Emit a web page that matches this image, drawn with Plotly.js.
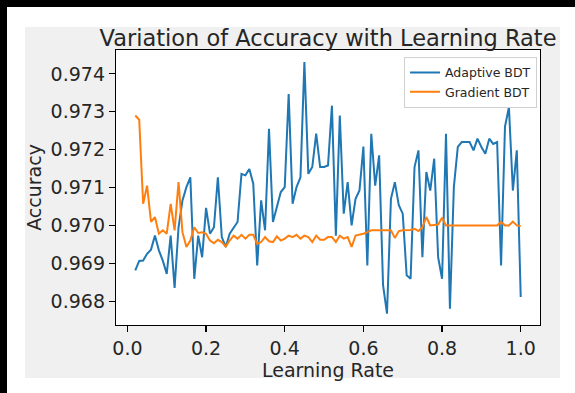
<!DOCTYPE html>
<html>
<head>
<meta charset="utf-8">
<script src="https://cdn.plot.ly/plotly-3.0.1.min.js"></script>
<style>
  html, body { margin: 0; padding: 0; background: #ffffff; }
  #wrap { position: relative; width: 575px; height: 393px; overflow: hidden; background: #ffffff; }
  #topbar { position: absolute; left: 0; top: 0; width: 575px; height: 7px; background: #000; z-index: 3; }
  #leftbar { position: absolute; left: 0; top: 0; width: 7px; height: 393px; background: #000; z-index: 3; }
  #figbg { position: absolute; left: 25px; top: 27px; width: 535px; height: 351px; background: #f0f0f0; z-index: 0; }
  #chart { position: absolute; left: 0; top: 0; width: 575px; height: 393px; z-index: 1; }
</style>
</head>
<body>
<div id="wrap">
  <div id="figbg"></div>
  <div id="chart"></div>
  <div id="topbar"></div>
  <div id="leftbar"></div>
</div>
<script>
const learningRate = [0.02,0.03,0.04,0.05,0.06,0.07,0.08,0.09,0.10,0.11,0.12,0.13,0.14,0.15,0.16,0.17,0.18,0.19,0.20,
  0.21,0.22,0.23,0.24,0.25,0.26,0.27,0.28,0.29,0.30,0.31,0.32,0.33,0.34,0.35,0.36,0.37,0.38,0.39,0.40,
  0.41,0.42,0.43,0.44,0.45,0.46,0.47,0.48,0.49,0.50,0.51,0.52,0.53,0.54,0.55,0.56,0.57,0.58,0.59,0.60,
  0.61,0.62,0.63,0.64,0.65,0.66,0.67,0.68,0.69,0.70,0.71,0.72,0.73,0.74,0.75,0.76,0.77,0.78,0.79,0.80,
  0.81,0.82,0.83,0.84,0.85,0.86,0.87,0.88,0.89,0.90,0.91,0.92,0.93,0.94,0.95,0.96,0.97,0.98,0.99,1.00];

const adaptiveBDT = [0.96881,0.96906,0.96907,0.96925,0.96936,0.96973,0.96934,0.96907,0.96872,0.96973,
  0.96835,0.96995,0.97066,0.97101,0.97127,0.96859,0.96973,0.96916,0.97046,0.96978,
  0.96995,0.97127,0.96969,0.96943,0.96978,0.96995,0.97009,0.97136,0.97132,0.97149,
  0.97110,0.96894,0.97066,0.96987,0.97255,0.97009,0.97048,0.97088,0.97101,0.97347,
  0.97057,0.97101,0.97127,0.97431,0.97136,0.97154,0.97242,0.97154,0.97154,0.97158,
  0.97316,0.96973,0.97290,0.97031,0.97114,0.97000,0.97070,0.97092,0.97208,0.96894,
  0.97242,0.97105,0.97185,0.96842,0.96767,0.97070,0.97114,0.97053,0.97031,0.96868,
  0.96859,0.97154,0.97198,0.96916,0.97141,0.97092,0.97176,0.96916,0.96859,0.97242,
  0.96780,0.97101,0.97207,0.97220,0.97220,0.97220,0.97198,0.97229,0.97207,0.97189,
  0.97229,0.97215,0.97220,0.96894,0.97261,0.97312,0.97092,0.97198,0.96811];

const gradientBDT = [0.97290,0.97279,0.97057,0.97105,0.97009,0.97022,0.96978,0.96987,0.96978,0.97057,
  0.96987,0.97114,0.96982,0.96943,0.96960,0.96995,0.96980,0.96982,0.96978,0.96960,
  0.96953,0.96962,0.96956,0.96944,0.96960,0.96973,0.96965,0.96975,0.96965,0.96975,
  0.96975,0.96951,0.96956,0.96969,0.96958,0.96956,0.96971,0.96960,0.96965,0.96973,
  0.96969,0.96975,0.96965,0.96973,0.96969,0.96956,0.96973,0.96962,0.96962,0.96969,
  0.96969,0.96956,0.96973,0.96965,0.96969,0.96943,0.96973,0.96975,0.96978,0.96982,
  0.96987,0.96987,0.96987,0.96987,0.96987,0.96987,0.96967,0.96985,0.96987,0.96987,
  0.96988,0.96991,0.96985,0.96995,0.97022,0.97000,0.97002,0.97002,0.97020,0.97000,
  0.97000,0.97000,0.97000,0.97000,0.97000,0.97000,0.97000,0.97000,0.97000,0.97000,
  0.97000,0.97000,0.97000,0.97009,0.97000,0.97000,0.97010,0.97000,0.96998];

const seriesNames = ['Adaptive BDT', 'Gradient BDT'];
const chartTitle = 'Variation of Accuracy with Learning Rate';
const xLabel = 'Learning Rate';
const yLabel = 'Accuracy';
const xTicks = [0.0, 0.2, 0.4, 0.6, 0.8, 1.0];
const yTicks = [0.968, 0.969, 0.970, 0.971, 0.972, 0.973, 0.974];

const FONT = 'DejaVu Sans, sans-serif';
const traces = [
  { x: learningRate, y: adaptiveBDT, name: seriesNames[0], type: 'scatter', mode: 'lines',
    line: { color: '#1f77b4', width: 2 } },
  { x: learningRate, y: gradientBDT, name: seriesNames[1], type: 'scatter', mode: 'lines',
    line: { color: '#ff7f0e', width: 2 } }
];

const layout = {
  width: 575, height: 393,
  margin: { l: 116, r: 35, t: 50, b: 68, pad: 0 },
  paper_bgcolor: 'rgba(0,0,0,0)',
  plot_bgcolor: '#ffffff',
  font: { family: FONT, color: '#262626' },
  title: { text: chartTitle, font: { family: FONT, size: 22.5, color: '#262626' },
    x: 0.5, xref: 'paper', xanchor: 'center', y: 1, yref: 'paper', yanchor: 'bottom', pad: { b: 4 } },
  xaxis: {
    range: [-0.029, 1.049], tickvals: xTicks, ticktext: xTicks.map(v => v.toFixed(1)),
    showgrid: false, zeroline: false, showline: true, linecolor: '#000', linewidth: 1.2, mirror: true,
    ticks: 'outside', ticklen: 6, tickwidth: 1.2, tickcolor: '#000',
    tickfont: { family: FONT, size: 19, color: '#262626' },
    title: { text: xLabel, font: { family: FONT, size: 19, color: '#262626' }, standoff: 4 },
    automargin: false
  },
  yaxis: {
    range: [0.96737, 0.97463], tickvals: yTicks, ticktext: yTicks.map(v => v.toFixed(3)),
    showgrid: false, zeroline: false, showline: true, linecolor: '#000', linewidth: 1.2, mirror: true,
    ticks: 'outside', ticklen: 6, tickwidth: 1.2, tickcolor: '#000',
    tickfont: { family: FONT, size: 19, color: '#262626' },
    title: { text: yLabel, font: { family: FONT, size: 19, color: '#262626' }, standoff: 4 },
    automargin: false
  },
  showlegend: true,
  legend: {
    x: 0.993, xanchor: 'right', y: 0.975, yanchor: 'top',
    bgcolor: 'rgba(255,255,255,0.85)', bordercolor: '#d0d0d0', borderwidth: 1,
    font: { family: FONT, size: 12.5, color: '#262626' },
    itemwidth: 30, tracegroupgap: 0
  }
};

Plotly.newPlot('chart', traces, layout, { displayModeBar: false, staticPlot: true });
</script>
</body>
</html>
